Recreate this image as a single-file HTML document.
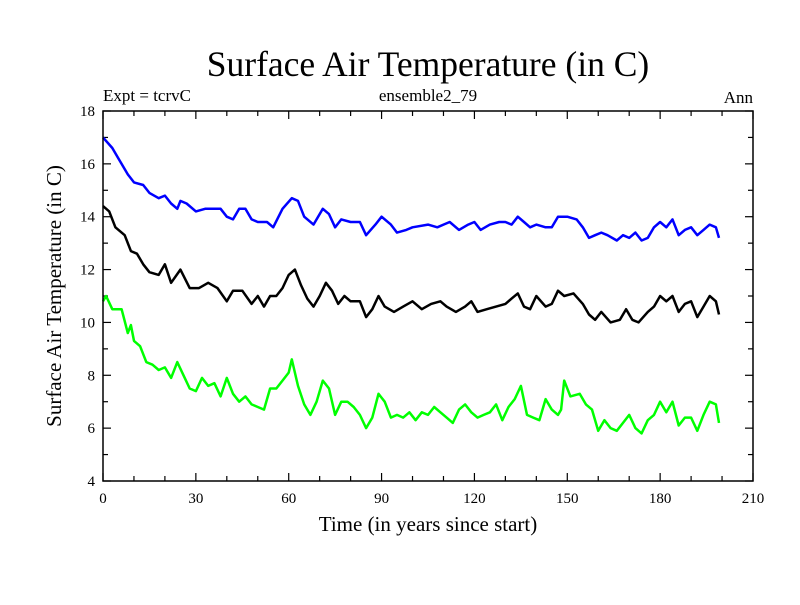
<!DOCTYPE html>
<html><head><meta charset="utf-8"><style>
body{margin:0;background:#fff}
svg text{font-family:"Liberation Serif",serif;fill:#000}
</style></head><body>
<svg id="chart" width="800" height="600" xmlns="http://www.w3.org/2000/svg">
<rect width="800" height="600" fill="#fff"/>
<text x="428" y="76" font-size="35.5" text-anchor="middle">Surface Air Temperature (in C)</text>
<text x="103" y="101" font-size="17">Expt = tcrvC</text>
<text x="428" y="101" font-size="17" text-anchor="middle">ensemble2_79</text>
<text x="753" y="103" font-size="17" text-anchor="end">Ann</text>
<text x="428" y="531" font-size="21" text-anchor="middle">Time (in years since start)</text>
<text transform="translate(61,296) rotate(-90)" font-size="21" text-anchor="middle">Surface Air Temperature (in C)</text>
<g id="axes"></g>
<g id="series"></g>
<rect x="103" y="111" width="650" height="370" fill="none" stroke="#000" stroke-width="1.5"/>
</svg>
<script>
const xTicks=[0,30,60,90,120,150,180,210];
const yTicks=[4,6,8,10,12,14,16,18];
const blueX=[0,3,5,8,10,13,15,18,20,22,24,25,27,30,33,38,40,42,44,46,48,50,53,55,58,61,63,65,68,71,73,75,77,80,83,85,88,90,93,95,98,100,105,108,110,112,115,118,120,122,125,128,130,132,134,136,138,140,143,145,147,150,153,155,157,159,161,163,166,168,170,172,174,176,178,180,182,184,186,188,190,192,194,196,198,199];
const blueY=[17.0,16.6,16.2,15.6,15.3,15.2,14.9,14.7,14.8,14.5,14.3,14.6,14.5,14.2,14.3,14.3,14.0,13.9,14.3,14.3,13.9,13.8,13.8,13.6,14.3,14.7,14.6,14.0,13.7,14.3,14.1,13.6,13.9,13.8,13.8,13.3,13.7,14.0,13.7,13.4,13.5,13.6,13.7,13.6,13.7,13.8,13.5,13.7,13.8,13.5,13.7,13.8,13.8,13.7,14.0,13.8,13.6,13.7,13.6,13.6,14.0,14.0,13.9,13.6,13.2,13.3,13.4,13.3,13.1,13.3,13.2,13.4,13.1,13.2,13.6,13.8,13.6,13.9,13.3,13.5,13.6,13.3,13.5,13.7,13.6,13.2];
const blackX=[0,2,4,7,9,11,13,15,18,20,22,25,28,31,34,37,40,42,45,48,50,52,54,56,58,60,62,64,66,68,70,72,74,76,78,80,83,85,87,89,91,94,97,100,103,106,109,111,114,117,119,121,124,127,130,132,134,136,138,140,143,145,147,149,152,155,157,159,161,164,167,169,171,173,176,178,180,182,184,186,188,190,192,194,196,198,199];
const blackY=[14.4,14.2,13.6,13.3,12.7,12.6,12.2,11.9,11.8,12.2,11.5,12.0,11.3,11.3,11.5,11.3,10.8,11.2,11.2,10.7,11.0,10.6,11.0,11.0,11.3,11.8,12.0,11.4,10.9,10.6,11.0,11.5,11.2,10.7,11.0,10.8,10.8,10.2,10.5,11.0,10.6,10.4,10.6,10.8,10.5,10.7,10.8,10.6,10.4,10.6,10.8,10.4,10.5,10.6,10.7,10.9,11.1,10.6,10.5,11.0,10.6,10.7,11.2,11.0,11.1,10.7,10.3,10.1,10.4,10.0,10.1,10.5,10.1,10.0,10.4,10.6,11.0,10.8,11.0,10.4,10.7,10.8,10.2,10.6,11.0,10.8,10.3];
const greenX=[0,1,3,6,8,9,10,12,14,16,18,20,22,24,26,28,30,32,34,36,38,40,42,44,46,48,50,52,54,56,58,60,61,63,65,67,69,71,73,75,77,79,81,83,85,87,89,91,93,95,97,99,101,103,105,107,109,111,113,115,117,119,121,123,125,127,129,131,133,135,137,139,141,143,145,147,148,149,151,154,156,158,160,162,164,166,168,170,172,174,176,178,180,182,184,186,188,190,192,194,196,198,199];
const greenY=[10.8,11.0,10.5,10.5,9.6,9.9,9.3,9.1,8.5,8.4,8.2,8.3,7.9,8.5,8.0,7.5,7.4,7.9,7.6,7.7,7.2,7.9,7.3,7.0,7.2,6.9,6.8,6.7,7.5,7.5,7.8,8.1,8.6,7.6,6.9,6.5,7.0,7.8,7.5,6.5,7.0,7.0,6.8,6.5,6.0,6.4,7.3,7.0,6.4,6.5,6.4,6.6,6.3,6.6,6.5,6.8,6.6,6.4,6.2,6.7,6.9,6.6,6.4,6.5,6.6,6.9,6.3,6.8,7.1,7.6,6.5,6.4,6.3,7.1,6.7,6.5,6.7,7.8,7.2,7.3,6.9,6.7,5.9,6.3,6.0,5.9,6.2,6.5,6.0,5.8,6.3,6.5,7.0,6.6,7.0,6.1,6.4,6.4,5.9,6.5,7.0,6.9,6.2];
const X0=103,X1=753,Y0=481,Y1=111;
const xs=v=>X0+(v-0)/(210-0)*(X1-X0);
const ys=v=>Y0-(v-4)/(18-4)*(Y0-Y1);
const NS='http://www.w3.org/2000/svg';
const axes=document.getElementById('axes');
function line(x1,y1,x2,y2){const l=document.createElementNS(NS,'line');l.setAttribute('x1',x1);l.setAttribute('y1',y1);l.setAttribute('x2',x2);l.setAttribute('y2',y2);l.setAttribute('stroke','#000');l.setAttribute('stroke-width','1.2');axes.appendChild(l);return l;}
for(let v=0;v<=210;v+=10){const x=xs(v),L=(v%30===0)?8:5;
const t=line(x,Y0,x,Y0-L);


const t2=line(x,Y1,x,Y1+L);

}
for(let v=4;v<=18;v+=1){const y=ys(v),L=(v%2===0)?8:5;
const t=line(X0,y,X0+L,y);


const t2=line(X1,y,X1-L,y);

}
xTicks.forEach(v=>{const t=document.createElementNS(NS,'text');t.setAttribute('x',xs(v));t.setAttribute('y',503);t.setAttribute('text-anchor','middle');t.setAttribute('font-size','15');t.textContent=v;


axes.appendChild(t);});
yTicks.forEach(v=>{const t=document.createElementNS(NS,'text');t.setAttribute('x',95);t.setAttribute('y',ys(v)+5);t.setAttribute('text-anchor','end');t.setAttribute('font-size','15');t.textContent=v;


axes.appendChild(t);});
const g=document.getElementById('series');
function series(xa,ya,color,name){const p=document.createElementNS(NS,'polyline');
p.setAttribute('points',xa.map((x,i)=>xs(x).toFixed(1)+','+ys(ya[i]).toFixed(1)).join(' '));
p.setAttribute('fill','none');p.setAttribute('stroke',color);p.setAttribute('stroke-width','2.5');p.setAttribute('stroke-linejoin','round');


g.appendChild(p);}
series(blueX,blueY,'#0000ff','blue-series-line');
series(blackX,blackY,'#000000','black-series-line');
series(greenX,greenY,'#00ff00','green-series-line');
</script>
</body></html>
